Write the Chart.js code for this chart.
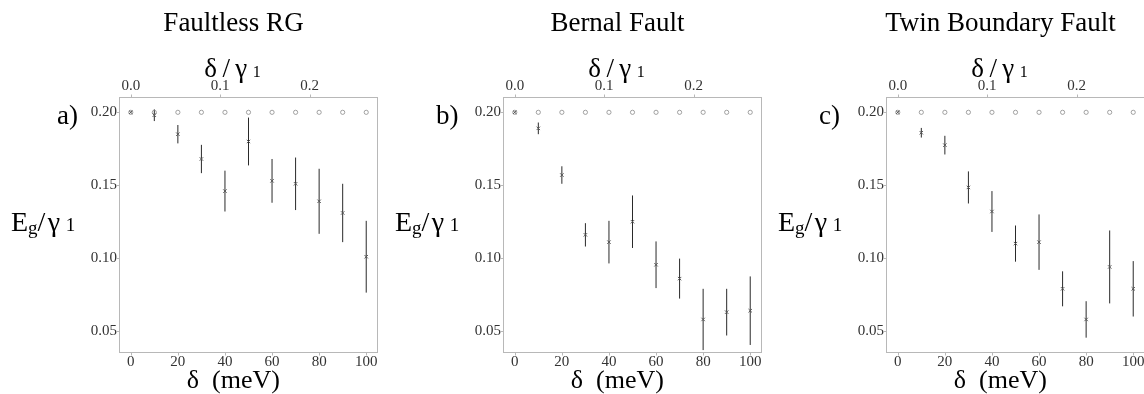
<!DOCTYPE html>
<html>
<head>
<meta charset="utf-8">
<script src="https://cdn.jsdelivr.net/npm/chart.js@4.4.1/dist/chart.umd.min.js"></script>
<style>
html,body{margin:0;padding:0;background:#fff;}
body{width:1144px;height:394px;overflow:hidden;position:relative;font-family:"Liberation Serif","Times New Roman",serif;color:#000;}
.panel{position:absolute;top:0;width:383px;height:394px;}
.panel canvas{position:absolute;left:0;top:0;}
.t{position:absolute;white-space:nowrap;line-height:1;}
.title{font-size:27px;top:9px;left:233.5px;transform:translateX(-50%);}
.toplab{font-size:27px;top:55px;left:232.5px;transform:translateX(-50%);}
.toplab .n{font-size:16px;}
.ylab{font-size:28px;top:208px;left:11px;}
.ylab .g{font-size:19px;vertical-align:-3px;}
.ylab .n{font-size:19px;}
.xlab{font-size:26px;top:367px;left:233.3px;transform:translateX(-50%);}
.letter{font-size:27px;top:102px;}
</style>
</head>
<body>
<div class="panel" id="pa" style="left:0px">
  <canvas id="ca" width="383" height="394"></canvas>
  <div class="t title">Faultless RG</div>
  <div class="t toplab">δ&#8201;/&#8201;γ&#8201;<span class="n">1</span></div>
  <div class="t ylab">E<span class="g">g</span>/&#8202;γ&#8201;<span class="n">1</span></div>
  <div class="t xlab">δ&#8194;(meV)</div>
  <div class="t letter" style="left:57px">a)</div>
</div>
<div class="panel" id="pb" style="left:384px">
  <canvas id="cb" width="383" height="394"></canvas>
  <div class="t title">Bernal Fault</div>
  <div class="t toplab">δ&#8201;/&#8201;γ&#8201;<span class="n">1</span></div>
  <div class="t ylab">E<span class="g">g</span>/&#8202;γ&#8201;<span class="n">1</span></div>
  <div class="t xlab">δ&#8194;(meV)</div>
  <div class="t letter" style="left:52px">b)</div>
</div>
<div class="panel" id="pc" style="left:767px">
  <canvas id="cc" width="383" height="394"></canvas>
  <div class="t title">Twin Boundary Fault</div>
  <div class="t toplab">δ&#8201;/&#8201;γ&#8201;<span class="n">1</span></div>
  <div class="t ylab">E<span class="g">g</span>/&#8202;γ&#8201;<span class="n">1</span></div>
  <div class="t xlab">δ&#8194;(meV)</div>
  <div class="t letter" style="left:52px">c)</div>
</div>
<script>
// ---- data ----
const deltas = [0, 10, 20, 30, 40, 50, 60, 70, 80, 90, 100];           // meV
const pristineGap = [0.2, 0.2, 0.2, 0.2, 0.2, 0.2, 0.2, 0.2, 0.2, 0.2, 0.2];

const faultlessGap = [0.200, 0.198, 0.185, 0.168, 0.146, 0.180, 0.153, 0.151, 0.139, 0.131, 0.101];
const faultlessErr = [0.000, 0.004, 0.0063, 0.0097, 0.014, 0.0164, 0.015, 0.018, 0.0223, 0.020, 0.0246];

const bernalGap = [0.200, 0.189, 0.157, 0.116, 0.111, 0.125, 0.0955, 0.086, 0.058, 0.063, 0.064];
const bernalErr = [0.000, 0.004, 0.006, 0.008, 0.0146, 0.018, 0.016, 0.0137, 0.021, 0.016, 0.0235];

const twinGap = [0.200, 0.186, 0.1775, 0.1485, 0.132, 0.110, 0.111, 0.079, 0.058, 0.094, 0.079];
const twinErr = [0.000, 0.0033, 0.0064, 0.011, 0.014, 0.0124, 0.019, 0.012, 0.0125, 0.025, 0.019];

const bottomTicks = [0, 20, 40, 60, 80, 100];
const topTicks = [0.0, 0.1, 0.2];
const yTicks = [0.05, 0.10, 0.15, 0.20];
const gamma1 = 380; // meV

// ---- drawing ----
const X_MIN = -5, X_MAX = 105, Y_MIN = 0.035, Y_MAX = 0.2105;
const FRAME = '#b8b8b8';
const tickFont = {family: 'Liberation Serif', size: 15};

const framePlugin = {
  id: 'frame',
  beforeDatasetsDraw(chart) {
    const {ctx, chartArea: a, scales} = chart;
    ctx.save();
    ctx.strokeStyle = FRAME;
    ctx.lineWidth = 1;
    const L = Math.round(a.left) + 0.5, R = Math.round(a.right) - 0.5;
    const T = Math.round(a.top) + 0.5, B = Math.round(a.bottom) - 0.5;
    ctx.strokeRect(L, T, R - L, B - T);
    ctx.beginPath();
    bottomTicks.forEach(v => { const p = Math.round(scales.x.getPixelForValue(v)) + 0.5; ctx.moveTo(p, B); ctx.lineTo(p, B + 3); });
    topTicks.forEach(v => { const p = Math.round(scales.x2.getPixelForValue(v)) + 0.5; ctx.moveTo(p, T); ctx.lineTo(p, T - 3); });
    yTicks.forEach(v => { const p = Math.round(scales.y.getPixelForValue(v)) + 0.5; ctx.moveTo(L, p); ctx.lineTo(L - 3, p); });
    ctx.stroke();
    ctx.restore();
  }
};

const errorBarPlugin = {
  id: 'errorBars',
  beforeDatasetsDraw(chart) {
    const {ctx, scales} = chart;
    chart.data.datasets.forEach(ds => {
      if (!ds.errors) return;
      ctx.save();
      ctx.strokeStyle = '#2a2a2a';
      ctx.lineWidth = 1;
      ds.data.forEach((p, i) => {
        const e = ds.errors[i];
        if (!e) return;
        const px = scales.x.getPixelForValue(p.x);
        ctx.beginPath();
        ctx.moveTo(px, scales.y.getPixelForValue(p.y + e));
        ctx.lineTo(px, scales.y.getPixelForValue(p.y - e));
        ctx.stroke();
      });
      ctx.restore();
    });
  }
};

function makeChart(id, gap, err) {
  const fixTicks = arr => (s => { s.ticks = arr.map(v => ({value: v})); });
  new Chart(document.getElementById(id), {
    type: 'scatter',
    data: {
      datasets: [
        {
          data: deltas.map((d, i) => ({x: d, y: pristineGap[i]})),
          pointStyle: 'circle', pointRadius: 2.1, borderWidth: 0.8,
          borderColor: '#8a8a8a', backgroundColor: 'rgba(255,255,255,0)', order: 2
        },
        {
          data: deltas.map((d, i) => ({x: d, y: gap[i]})),
          errors: err,
          pointStyle: 'crossRot', pointRadius: 2.4, borderWidth: 1,
          borderColor: '#555', backgroundColor: '#555', order: 1
        }
      ]
    },
    options: {
      responsive: false, animation: false, events: [],
      layout: {padding: {left: 0, right: 4, top: 0, bottom: 0}},
      plugins: {legend: {display: false}, tooltip: {enabled: false}, title: {display: false}},
      scales: {
        x: {
          type: 'linear', position: 'bottom', min: X_MIN, max: X_MAX,
          afterBuildTicks: fixTicks(bottomTicks),
          afterFit: s => { s.height = 41; },
          grid: {display: false, drawTicks: false}, border: {display: false},
          ticks: {font: tickFont, color: '#333', padding: 0, autoSkip: false, maxRotation: 0,
                  callback: v => String(v)}
        },
        x2: {
          type: 'linear', position: 'top', min: X_MIN / gamma1, max: X_MAX / gamma1,
          afterBuildTicks: fixTicks(topTicks),
          afterFit: s => { s.height = 97; },
          grid: {display: false, drawTicks: false}, border: {display: false},
          ticks: {font: tickFont, color: '#333', padding: 2, autoSkip: false, maxRotation: 0,
                  callback: v => v.toFixed(1)}
        },
        y: {
          type: 'linear', position: 'left', min: Y_MIN, max: Y_MAX,
          afterBuildTicks: fixTicks(yTicks),
          afterFit: s => { s.width = 119; },
          grid: {display: false, drawTicks: false}, border: {display: false},
          ticks: {font: tickFont, color: '#333', padding: 2, autoSkip: false,
                  callback: v => v.toFixed(2)}
        }
      }
    },
    plugins: [framePlugin, errorBarPlugin]
  });
}

makeChart('ca', faultlessGap, faultlessErr);
makeChart('cb', bernalGap, bernalErr);
makeChart('cc', twinGap, twinErr);
</script>
</body>
</html>
